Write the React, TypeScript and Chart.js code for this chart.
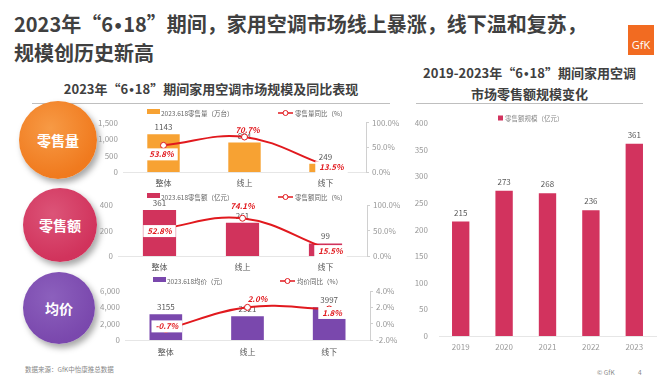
import React, { useEffect, useRef } from 'react';
import { Chart, registerables } from 'chart.js';

Chart.register(...registerables);

const FONT = '"Noto Sans CJK SC", "Noto Sans", sans-serif';
Chart.defaults.font.family = FONT;

// ---------- data ----------
const categories = ['整体', '线上', '线下'];
const volumeValues = [1143, 894, 249];
const volumeYoY = [53.8, 70.7, 13.5];
const salesValues = [361, 261, 99];
const salesYoY = [52.8, 74.1, 15.5];
const priceValues = [3155, 2921, 3997];
const priceYoY = [-0.7, 2.0, 1.8];
const years = ['2019', '2020', '2021', '2022', '2023'];
const yearlySales = [215, 273, 268, 236, 361];

const RED = '#E1191E';

const comboPlugin = {
  id: 'comboLabels',
  afterDatasetDraw(chart: any, args: any) {
    if (args.index !== 0) return;
    const ctx = chart.ctx;
    const meta = chart.getDatasetMeta(0);
    ctx.save();
    ctx.font = `8px ${FONT}`;
    ctx.fillStyle = '#595959';
    ctx.textAlign = 'center';
    ctx.textBaseline = 'middle';
    meta.data.forEach((bar: any, i: number) => {
      ctx.fillText(String(chart.data.datasets[0].data[i]), bar.x, bar.y - 7);
    });
    ctx.restore();
  },
  afterDatasetsDraw(chart: any, _args: any, opts: any) {
    const ctx = chart.ctx;
    const meta = chart.getDatasetMeta(1);
    ctx.save();
    ctx.font = `italic bold 8px ${FONT}`;
    ctx.textAlign = 'center';
    ctx.textBaseline = 'middle';
    meta.data.forEach((pt: any, i: number) => {
      const v = chart.data.datasets[1].data[i] as number;
      const text = v.toFixed(1) + '%';
      const [dx, dy] = opts.offsets[i];
      const cx = pt.x + dx;
      const cy = pt.y + dy;
      const w = ctx.measureText(text).width;
      if (opts.boxes[i]) {
        ctx.fillStyle = '#ffffff';
        ctx.fillRect(cx - w / 2 - 4, cy - 6, w + 8, 12);
      }
      ctx.fillStyle = RED;
      ctx.fillText(text, cx, cy);
    });
    // legend
    const lg = opts.legend;
    ctx.font = `6.5px ${FONT}`;
    ctx.textAlign = 'left';
    ctx.fillStyle = opts.color;
    ctx.fillRect(lg.barX, lg.y - 4, 13, 5);
    ctx.fillStyle = '#666';
    ctx.fillText(chart.data.datasets[0].label, lg.barX + 14, lg.y + 1);
    ctx.strokeStyle = RED;
    ctx.lineWidth = 1.5;
    ctx.beginPath();
    ctx.moveTo(lg.lineX, lg.y);
    ctx.lineTo(lg.lineX + 15, lg.y);
    ctx.stroke();
    ctx.beginPath();
    ctx.arc(lg.lineX + 7.5, lg.y, 2.5, 0, Math.PI * 2);
    ctx.fillStyle = '#fff';
    ctx.fill();
    ctx.lineWidth = 1;
    ctx.stroke();
    ctx.fillStyle = '#666';
    ctx.fillText(chart.data.datasets[1].label, lg.lineX + 17, lg.y + 1);
    ctx.restore();
  },
};

type ComboProps = {
  left: number; top: number; width: number; height: number;
  area: { l: number; r: number; t: number; b: number };
  values: number[]; yoy: number[]; color: string;
  barLabel: string; lineLabel: string;
  yMax: number; yStep: number; y1Min: number; y1Max: number; y1Step: number;
  legend: { barX: number; lineX: number; y: number };
  offsets: [number, number][]; boxes: boolean[]; xPad: number;
};

function ComboChart(p: ComboProps) {
  const ref = useRef<HTMLCanvasElement>(null);
  useEffect(() => {
    const chart = new Chart(ref.current!, {
      type: 'bar',
      data: {
        labels: categories,
        datasets: [
          {
            type: 'bar', label: p.barLabel, data: p.values, backgroundColor: p.color,
            yAxisID: 'y', order: 2, barPercentage: 0.4, categoryPercentage: 1,
          } as any,
          {
            type: 'line', label: p.lineLabel, data: p.yoy, borderColor: RED, borderWidth: 2,
            tension: 0.4, yAxisID: 'y1', order: 1, pointRadius: 3, pointBackgroundColor: '#fff',
            pointBorderColor: RED, pointBorderWidth: 1,
          } as any,
        ],
      },
      options: {
        responsive: false, animation: false,
        layout: { padding: { top: p.area.t, left: 0, right: 0, bottom: 0 } },
        plugins: {
          legend: { display: false }, tooltip: { enabled: false },
          comboLabels: { offsets: p.offsets, boxes: p.boxes, legend: p.legend, color: p.color },
        } as any,
        scales: {
          x: {
            grid: { display: false, drawTicks: false },
            border: { display: true, color: '#e6e6e6' },
            ticks: { color: '#595959', font: { size: 8 }, padding: p.xPad },
            afterFit: (s: any) => { s.height = p.height - p.area.b; },
          },
          y: {
            position: 'left', min: 0, max: p.yMax,
            grid: { display: false, drawTicks: false }, border: { display: false },
            ticks: {
              stepSize: p.yStep, color: '#999', font: { size: 8 }, padding: 5,
              callback: (v: any) => Number(v).toLocaleString('en-US'),
            },
            afterFit: (s: any) => { s.width = p.area.l; },
          },
          y1: {
            position: 'right', min: p.y1Min, max: p.y1Max,
            grid: { drawOnChartArea: false, drawTicks: true, tickLength: 3, color: '#d0d0d0' },
            border: { display: true, color: '#d0d0d0' },
            ticks: {
              stepSize: p.y1Step, color: '#999', font: { size: 8 }, padding: 3,
              callback: (v: any) => Number(v).toFixed(1) + '%',
            },
            afterFit: (s: any) => { s.width = p.width - p.area.r; },
          },
        },
      },
      plugins: [comboPlugin],
    });
    return () => chart.destroy();
  }, []);
  return (
    <canvas ref={ref} width={p.width} height={p.height}
      style={{ position: 'absolute', left: p.left, top: p.top, width: p.width, height: p.height }} />
  );
}

const yearPlugin = {
  id: 'yearLabels',
  afterDatasetsDraw(chart: any) {
    const ctx = chart.ctx;
    const meta = chart.getDatasetMeta(0);
    ctx.save();
    ctx.font = `8px ${FONT}`;
    ctx.fillStyle = '#595959';
    ctx.textAlign = 'center';
    ctx.textBaseline = 'middle';
    meta.data.forEach((bar: any, i: number) => {
      ctx.fillText(String(chart.data.datasets[0].data[i]), bar.x, bar.y - 9);
    });
    // legend
    ctx.font = `6.5px ${FONT}`;
    const label = chart.data.datasets[0].label;
    const x0 = 98;
    ctx.fillStyle = '#D2335E';
    ctx.fillRect(x0, 15.5, 5, 5);
    ctx.fillStyle = '#888';
    ctx.textAlign = 'left';
    ctx.fillText(label, x0 + 7, 18.5);
    ctx.restore();
  },
};

function YearChart() {
  const ref = useRef<HTMLCanvasElement>(null);
  const W = 261, H = 255;
  const area = { l: 39, r: 256, t: 23, b: 236 };
  useEffect(() => {
    const chart = new Chart(ref.current!, {
      type: 'bar',
      data: {
        labels: years,
        datasets: [{
          label: '零售额规模（亿元）', data: yearlySales, backgroundColor: '#D2335E',
          barPercentage: 0.4, categoryPercentage: 1,
        }],
      },
      options: {
        responsive: false, animation: false,
        layout: { padding: { top: area.t, left: 0, right: W - area.r, bottom: 0 } },
        plugins: { legend: { display: false }, tooltip: { enabled: false } },
        scales: {
          x: {
            grid: { display: false, drawTicks: false },
            border: { display: true, color: '#e6e6e6' },
            ticks: { color: '#999', font: { size: 8 }, padding: 6 },
            afterFit: (s: any) => { s.height = H - area.b; },
          },
          y: {
            min: 0, max: 400,
            grid: { display: false, drawTicks: false }, border: { display: false },
            ticks: { stepSize: 50, color: '#999', font: { size: 8 }, padding: 11 },
            afterFit: (s: any) => { s.width = area.l; },
          },
        },
      },
      plugins: [yearPlugin],
    });
    return () => chart.destroy();
  }, []);
  return (
    <canvas ref={ref} width={W} height={H}
      style={{ position: 'absolute', left: 400, top: 100, width: W, height: H }} />
  );
}

function Circle({ x, y, r, color, light, text }: any) {
  return (
    <div style={{
      position: 'absolute', left: x - r, top: y - r, width: 2 * r, height: 2 * r, borderRadius: '50%',
      background: `radial-gradient(circle at 40% 35%, ${light}, ${color} 70%)`,
      boxShadow: '3px 4px 6px rgba(0,0,0,0.35)',
      display: 'flex', alignItems: 'center', justifyContent: 'center',
      color: '#fff', fontWeight: 700, fontSize: 14, fontFamily: FONT,
    }}>{text}</div>
  );
}

const Dot = () => <span style={{ fontFamily: '"DejaVu Sans", sans-serif', fontSize: '0.8em' }}>•</span>;

export default function App() {
  return (
    <div style={{
      position: 'fixed', left: 0, top: 0, width: 661, height: 384, background: '#fff',
      overflow: 'hidden', fontFamily: FONT,
    }}>
      <div style={{
        position: 'absolute', left: 14, top: 11, fontSize: 20, fontWeight: 700, lineHeight: '26px',
        color: '#404040', whiteSpace: 'nowrap',
      }}>
        2023年“6<Dot />18”期间，家用空调市场线上暴涨，线下温和复苏，<br />规模创历史新高
      </div>
      <div style={{
        position: 'absolute', left: 628, top: 25, width: 26, height: 30, background: '#F26B21',
        color: '#fff', fontSize: 11, display: 'flex', alignItems: 'flex-end', justifyContent: 'center',
        fontFamily: '"Open Sans", sans-serif', lineHeight: '20px',
      }}>GfK</div>

      <div style={{
        position: 'absolute', left: 32, width: 358, top: 80, textAlign: 'center', fontSize: 13,
        fontWeight: 700, color: '#404040', whiteSpace: 'nowrap', lineHeight: '18px',
      }}>2023年“6<Dot />18”期间家用空调市场规模及同比表现</div>
      <div style={{ position: 'absolute', left: 32, top: 103, width: 358, height: 1, background: '#bfbfbf' }} />

      <div style={{
        position: 'absolute', left: 416, width: 227, top: 63, textAlign: 'center', fontSize: 13,
        fontWeight: 700, color: '#404040', whiteSpace: 'nowrap', lineHeight: '19px',
      }}>2019-2023年“6<Dot />18”期间家用空调<br />市场零售额规模变化</div>
      <div style={{ position: 'absolute', left: 416, top: 103, width: 227, height: 1, background: '#bfbfbf' }} />

      <Circle x={58} y={140} r={39} color="#F07A1E" light="#F79A45" text="零售量" />
      <Circle x={60} y={225} r={37} color="#D1335C" light="#DC5478" text="零售额" />
      <Circle x={59} y={308} r={36} color="#7A48AD" light="#8C60BD" text="均价" />

      <ComboChart left={90} top={104} width={310} height={88}
        area={{ l: 33, r: 276, t: 18.5, b: 68 }}
        values={volumeValues} yoy={volumeYoY} color="#F7A233"
        barLabel="2023.618零售量（万台）" lineLabel="零售量同比（%）"
        yMax={1500} yStep={500} y1Min={0} y1Max={100} y1Step={50}
        legend={{ barX: 57, lineX: 188, y: 9 }}
        offsets={[[-2, 9], [3, -7], [6, 2]]} boxes={[true, false, true]} xPad={6} />

      <ComboChart left={90} top={188} width={310} height={86}
        area={{ l: 28, r: 277, t: 17, b: 68 }}
        values={salesValues} yoy={salesYoY} color="#D1335C"
        barLabel="2023.618零售额（亿元）" lineLabel="零售额同比（%）"
        yMax={400} yStep={200} y1Min={0} y1Max={100} y1Step={50}
        legend={{ barX: 57, lineX: 188, y: 9 }}
        offsets={[[0, 2], [0, -12], [5, 3]]} boxes={[true, false, true]} xPad={6} />

      <ComboChart left={90} top={270} width={310} height={90}
        area={{ l: 35, r: 280, t: 21, b: 70 }}
        values={priceValues} yoy={priceYoY} color="#7A48AD"
        barLabel="2023.618均价（元）" lineLabel="均价同比（%）"
        yMax={6000} yStep={2000} y1Min={-2} y1Max={4} y1Step={2}
        legend={{ barX: 63, lineX: 190, y: 11 }}
        offsets={[[1, -3], [10, -8], [3, 4]]} boxes={[true, false, true]} xPad={7} />

      <YearChart />

      <div style={{ position: 'absolute', left: 25, top: 364, fontSize: 6.5, color: '#888', whiteSpace: 'nowrap' }}>
        数据来源：GfK中怡康推总数据
      </div>
      <div style={{ position: 'absolute', left: 597, top: 367, fontSize: 6.5, color: '#888', whiteSpace: 'nowrap' }}>© GfK</div>
      <div style={{ position: 'absolute', left: 638, top: 367, fontSize: 6.5, color: '#888' }}>4</div>
    </div>
  );
}
